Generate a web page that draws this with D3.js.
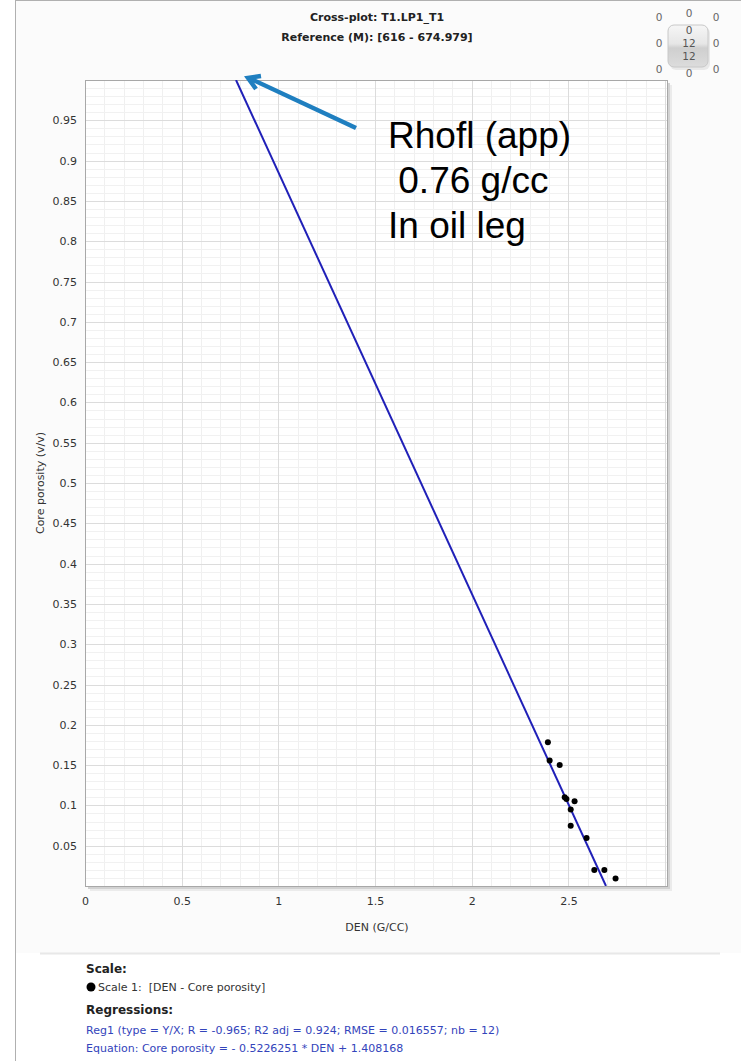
<!DOCTYPE html>
<html><head><meta charset="utf-8">
<script src="https://cdn.jsdelivr.net/npm/d3@7"></script>
<style>
html,body{margin:0;padding:0;background:#fff;}
svg{display:block;}
</style>
</head><body>
<svg id="c" width="741" height="1061"></svg>
<script>
// ---- data ----
const denValues = [2.394, 2.403, 2.455, 2.481, 2.490, 2.532, 2.512, 2.512, 2.594, 2.634, 2.686, 2.744];
const porosityValues = [0.1785, 0.1557, 0.150, 0.110, 0.108, 0.105, 0.095, 0.0747, 0.0595, 0.0198, 0.0198, 0.0094];
const xTicks = [0, 0.5, 1, 1.5, 2, 2.5];
const yTicks = [0.05,0.1,0.15,0.2,0.25,0.3,0.35,0.4,0.45,0.5,0.55,0.6,0.65,0.7,0.75,0.8,0.85,0.9,0.95];
const regSlope = -0.5226251;
const regIntercept = 1.408168;
const titleLines = ["Cross-plot: T1.LP1_T1", "Reference (M): [616 - 674.979]"];
const annotationLines = ["Rhofl (app)", " 0.76 g/cc", "In oil leg"];
const widgetCounts = [["0","0","0"],["0","12","0"],["0","0","0"]];
const widgetInner = ["0","12","12"];
const footerLines = {
  scaleTitle: "Scale:",
  scaleItem: "Scale 1:  [DEN - Core porosity]",
  regTitle: "Regressions:",
  reg1: "Reg1 (type = Y/X; R = -0.965; R2 adj = 0.924; RMSE = 0.016557; nb = 12)",
  equation: "Equation: Core porosity = - 0.5226251 * DEN + 1.408168"
};

const svg = d3.select("#c");
const font = "'DejaVu Sans', Verdana, sans-serif";
const L = 85, R = 667, T = 80, B = 886;
const x = d3.scaleLinear().domain([0, 3.01]).range([L, R]);
const y = d3.scaleLinear().domain([0, 1]).range([B, T]);

// page background
svg.append("rect").attr("x",0).attr("y",0).attr("width",741).attr("height",1061).attr("fill","#fff");
svg.append("rect").attr("x",16).attr("y",1).attr("width",725).attr("height",952).attr("fill","#fbfbfb");
svg.append("line").attr("x1",15.5).attr("x2",15.5).attr("y1",0).attr("y2",1061).attr("stroke","#b0b0b0");
svg.append("line").attr("x1",15).attr("x2",741).attr("y1",0.5).attr("y2",0.5).attr("stroke","#b0b0b0");
svg.append("line").attr("x1",40).attr("x2",720).attr("y1",953.5).attr("y2",953.5).attr("stroke","#e8e8e8").attr("stroke-width",2);

// titles
titleLines.forEach((t,i)=>{
  svg.append("text").attr("x",377).attr("y",21+i*20).attr("text-anchor","middle")
    .attr("font-family",font).attr("font-weight","bold").attr("font-size",11).attr("fill","#222").text(t);
});

// widget
const wg = svg.append("g");
const defs = svg.append("defs");
const grad = defs.append("linearGradient").attr("id","wgrad").attr("x1",0).attr("x2",0).attr("y1",0).attr("y2",1);
grad.append("stop").attr("offset","0%").attr("stop-color","#f6f6f6");
grad.append("stop").attr("offset","45%").attr("stop-color","#e6e6e6");
grad.append("stop").attr("offset","55%").attr("stop-color","#cfcfcf");
grad.append("stop").attr("offset","100%").attr("stop-color","#dcdcdc");
wg.append("rect").attr("x",670).attr("y",27).attr("width",40).attr("height",43).attr("rx",6).attr("fill","#ddd").attr("opacity",0.6);
wg.append("rect").attr("x",668).attr("y",25).attr("width",40).attr("height",42).attr("rx",6).attr("fill","url(#wgrad)").attr("stroke","#c8c8c8");
const wx = [659, 689, 716], wy = [20, 47, 74];
widgetCounts.forEach((row,ri)=>row.forEach((v,ci)=>{
  if (ri===1 && ci===1) return;
  let yy = wy[ri]; if (ri===0 && ci===1) yy = 17; if (ri===2 && ci!==1) yy = 73; if (ri===2 && ci===1) yy = 77; if (ri===0 && ci!==1) yy=21;
  wg.append("text").attr("x",wx[ci]).attr("y",yy).attr("text-anchor","middle")
    .attr("font-family",font).attr("font-size",10.5).attr("fill","#666").text(v);
}));
widgetInner.forEach((v,i)=>{
  wg.append("text").attr("x",689).attr("y",34+i*13).attr("text-anchor","middle")
    .attr("font-family",font).attr("font-size",10.5).attr("fill","#555").text(v);
});

// plot shadow
svg.append("rect").attr("x",L+5).attr("y",T+5).attr("width",R-L).attr("height",B-T).attr("fill","#ebebeb");
svg.append("rect").attr("x",L+3).attr("y",T+3).attr("width",R-L).attr("height",B-T).attr("fill","#d2d2d2");
svg.append("rect").attr("x",L).attr("y",T).attr("width",R-L).attr("height",B-T).attr("fill","#fff");

// grid
const g = svg.append("g");
const xMinor = d3.range(0, 3.01, 0.1);
const yMinor = d3.range(0, 1.0001, 0.01);
g.selectAll(".xm").data(xMinor).enter().append("line")
  .attr("x1",d=>Math.round(x(d))+0.5).attr("x2",d=>Math.round(x(d))+0.5).attr("y1",T).attr("y2",B)
  .attr("stroke","#f0f0f0");
g.selectAll(".ym").data(yMinor).enter().append("line")
  .attr("y1",d=>Math.round(y(d))+0.5).attr("y2",d=>Math.round(y(d))+0.5).attr("x1",L).attr("x2",R)
  .attr("stroke","#f1f1f1");
g.selectAll(".xM").data(xTicks.concat([3])).enter().append("line")
  .attr("x1",d=>Math.round(x(d))+0.5).attr("x2",d=>Math.round(x(d))+0.5).attr("y1",T).attr("y2",B)
  .attr("stroke","#dcdcdc");
g.selectAll(".yM").data(yTicks).enter().append("line")
  .attr("y1",d=>Math.round(y(d))+0.5).attr("y2",d=>Math.round(y(d))+0.5).attr("x1",L).attr("x2",R)
  .attr("stroke","#dcdcdc");

// border
svg.append("rect").attr("x",L+0.5).attr("y",T+0.5).attr("width",R-L).attr("height",B-T)
  .attr("fill","none").attr("stroke","#a8a8a8");

// axes (labels via d3 axes, domain/ticks hidden)
const xAxis = svg.append("g").attr("transform",`translate(0,${B+5})`)
  .call(d3.axisBottom(x).tickValues(xTicks).tickSize(0).tickPadding(6).tickFormat(d3.format("")));
const yAxis = svg.append("g").attr("transform",`translate(${L-8},0)`)
  .call(d3.axisLeft(y).tickValues(yTicks).tickSize(0).tickPadding(0).tickFormat(d3.format("")));
[xAxis,yAxis].forEach(a=>{
  a.select(".domain").remove();
  a.selectAll("text").attr("font-family",font).attr("font-size",11).attr("fill","#333");
});

svg.append("text").attr("x",377).attr("y",931).attr("text-anchor","middle")
  .attr("font-family",font).attr("font-size",11).attr("fill","#333").text("DEN (G/CC)");
svg.append("text").attr("transform","translate(44,483) rotate(-90)").attr("text-anchor","middle")
  .attr("font-family",font).attr("font-size",11).attr("fill","#333").text("Core porosity (v/v)");

// clip
defs.append("clipPath").attr("id","pclip").append("rect").attr("x",L).attr("y",T).attr("width",R-L).attr("height",B-T);

// regression line
const xs = [(1 - regIntercept)/regSlope, (0 - regIntercept)/regSlope];
svg.append("line").attr("clip-path","url(#pclip)")
  .attr("x1",x(xs[0])).attr("y1",y(regSlope*xs[0]+regIntercept))
  .attr("x2",x(xs[1])).attr("y2",y(regSlope*xs[1]+regIntercept))
  .attr("stroke","#2020b8").attr("stroke-width",2);

// points
svg.append("g").selectAll("circle").data(denValues).enter().append("circle")
  .attr("cx",(d)=>x(d)).attr("cy",(d,i)=>y(porosityValues[i])).attr("r",3).attr("fill","#000");

// annotation arrow
const ax0 = 356, ay0 = 128, ax1 = 247, ay1 = 77;
svg.append("line").attr("x1",ax0).attr("y1",ay0).attr("x2",ax1+3).attr("y2",ay1+1.5)
  .attr("stroke","#1f7fc0").attr("stroke-width",4.5);
svg.append("path").attr("d",`M${ax1+14},${ay1-1} L${ax1+1},${ay1+1} L${ax1+9},${ay1+12}`)
  .attr("fill","none").attr("stroke","#1f7fc0").attr("stroke-width",4.5).attr("stroke-linejoin","miter").attr("stroke-linecap","butt");

annotationLines.forEach((t,i)=>{
  svg.append("text").attr("x",388).attr("y",148+i*45)
    .style("white-space","pre")
    .attr("font-family","'Liberation Sans', Arial, sans-serif").attr("font-size",37).attr("fill","#000").text(t);
});

// footer
svg.append("text").attr("x",86).attr("y",973).attr("font-family",font).attr("font-weight","bold")
  .attr("font-size",12).attr("fill","#222").text(footerLines.scaleTitle);
svg.append("circle").attr("cx",91).attr("cy",987).attr("r",4.5).attr("fill","#000");
svg.append("text").attr("x",98).attr("y",991).attr("font-family",font).attr("font-size",11).attr("fill","#333")
  .style("white-space","pre").text(footerLines.scaleItem);
svg.append("text").attr("x",86).attr("y",1014).attr("font-family",font).attr("font-weight","bold")
  .attr("font-size",12).attr("fill","#222").text(footerLines.regTitle);
svg.append("text").attr("x",86).attr("y",1034).attr("font-family",font).attr("font-size",11).attr("fill","#3344bb").text(footerLines.reg1);
svg.append("text").attr("x",86).attr("y",1052).attr("font-family",font).attr("font-size",11).attr("fill","#3344bb").text(footerLines.equation);
</script>
</body></html>
